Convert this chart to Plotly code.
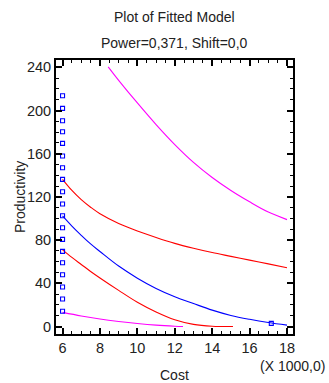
import plotly.graph_objects as go

# Observed data points
obs_cost = [6]*19 + [17.16]
obs_prod = [213.7, 202.0, 190.6, 180.4, 169.6, 157.9, 147.0, 136.3, 124.8, 113.4,
            102.6, 91.5, 80.7, 69.6, 59.1, 48.0, 36.6, 25.5, 14.1, 2.9]

# Fitted line
fit_cost = [6, 6.5, 7, 7.5, 8, 9, 10, 11, 12, 13, 14, 15, 16, 17, 18]
fit_prod = [102.4, 93, 84.5, 76.5, 69.5, 56, 44.8, 35.3, 27.6, 21.3, 15.2, 10.3, 6.7, 3.7, 1.3]

# Confidence limits
cu_cost = [6, 6.5, 7, 7.5, 8, 9, 10, 11, 12, 13, 14, 15, 16, 17, 18]
cu_prod = [136.3, 126, 117.5, 110.5, 104.5, 95.5, 88.5, 82.5, 77, 72.5, 68.5, 65, 61.5, 58, 54.5]
cl_cost = [6, 6.5, 7, 7.5, 8, 9, 10, 11, 12, 13, 14, 15.11]
cl_prod = [71, 64, 57.5, 51, 45, 33.5, 22.5, 13.5, 6.3, 2, 0.3, 0]

# Prediction limits
pu_cost = [8.44, 9, 10, 11, 12, 13, 14, 15, 16, 17, 18]
pu_prod = [240.5, 228, 207, 187, 168.5, 152, 138, 126, 115.5, 106, 99]
pl_cost = [6, 7, 8, 9, 10, 11, 12, 12.44]
pl_prod = [13.1, 9.8, 7, 4.7, 2.8, 1.3, 0.3, 0]

x_ticks = [6, 8, 10, 12, 14, 16, 18]
y_ticks = [0, 40, 80, 120, 160, 200, 240]

FONT = "Liberation Sans, Arial, sans-serif"
TXT = "#222222"

fig = go.Figure()
line_w = 1.1
fig.add_trace(go.Scatter(x=pu_cost, y=pu_prod, mode="lines", line_shape="spline",
                         line=dict(color="#FF00FF", width=line_w)))
fig.add_trace(go.Scatter(x=pl_cost, y=pl_prod, mode="lines", line_shape="spline",
                         line=dict(color="#FF00FF", width=line_w)))
fig.add_trace(go.Scatter(x=cu_cost, y=cu_prod, mode="lines", line_shape="spline",
                         line=dict(color="#FF0000", width=line_w)))
fig.add_trace(go.Scatter(x=cl_cost, y=cl_prod, mode="lines", line_shape="spline",
                         line=dict(color="#FF0000", width=line_w)))
fig.add_trace(go.Scatter(x=fit_cost, y=fit_prod, mode="lines", line_shape="spline",
                         line=dict(color="#0000FF", width=line_w)))
fig.add_trace(go.Scatter(x=obs_cost, y=obs_prod, mode="markers",
                         marker=dict(symbol="square-open", size=4,
                                     color="#0000FF", line=dict(width=1.1))))

axis_common = dict(showgrid=False, zeroline=False, showline=True,
                   linecolor="black", linewidth=2, mirror="ticks",
                   ticks="inside", ticklen=6, tickwidth=1.5, tickcolor="black",
                   tickfont=dict(family=FONT, size=14.5, color=TXT))

fig.update_layout(
    width=329, height=383,
    margin=dict(l=56, r=35.5, t=60, b=49),
    paper_bgcolor="white", plot_bgcolor="white",
    showlegend=False,
    xaxis=dict(range=[5.65, 18.32], tickvals=x_ticks,
               ticktext=[str(v) for v in x_ticks],
               minor=dict(dtick=0.5, tick0=0, ticks="inside", ticklen=3,
                          tickwidth=1.2, tickcolor="black"),
               **axis_common),
    yaxis=dict(range=[-6.9, 246.8], tickvals=y_ticks,
               ticktext=[str(v) for v in y_ticks],
               minor=dict(dtick=10, tick0=0, ticks="inside", ticklen=3,
                          tickwidth=1.2, tickcolor="black"),
               **axis_common),
    annotations=[
        dict(text="Plot of Fitted Model", x=0.5, y=(334 - 16.5) / 274,
             xref="paper", yref="paper", showarrow=False, yanchor="middle",
             font=dict(family=FONT, size=14, color=TXT)),
        dict(text="Power=0,371, Shift=0,0", x=0.5, y=(334 - 43) / 274,
             xref="paper", yref="paper", showarrow=False, yanchor="middle",
             font=dict(family=FONT, size=14, color=TXT)),
        dict(text="Cost", x=0.5, y=(334 - 375) / 274,
             xref="paper", yref="paper", showarrow=False, yanchor="middle",
             font=dict(family=FONT, size=14, color=TXT)),
        dict(text="(X 1000,0)", x=(328 - 56) / 237.5, y=(334 - 366) / 274,
             xref="paper", yref="paper", showarrow=False, yanchor="middle",
             xanchor="right", font=dict(family=FONT, size=14, color=TXT)),
        dict(text="Productivity", x=(20 - 56) / 237.5, y=0.5,
             xref="paper", yref="paper", showarrow=False, textangle=-90,
             xanchor="center", yanchor="middle",
             font=dict(family=FONT, size=14, color=TXT)),
    ],
)

fig.write_html("out.html")
